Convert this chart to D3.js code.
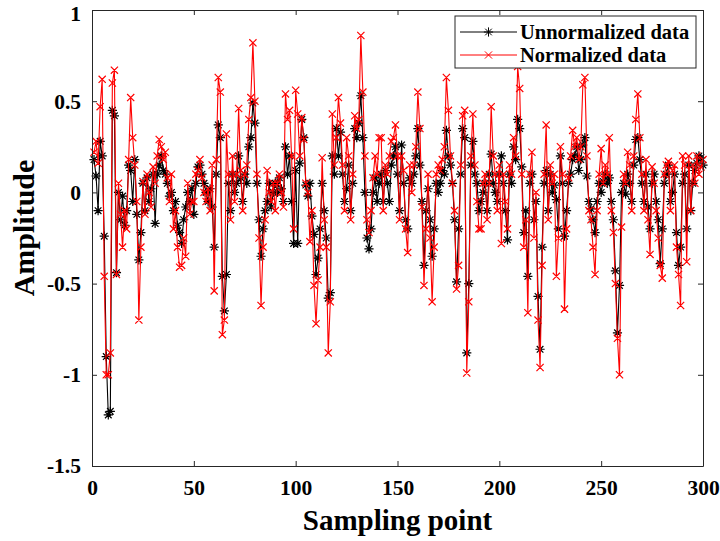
<!DOCTYPE html>
<html lang="en">
<head>
    <meta charset="UTF-8">
    <title>Amplitude</title>
    <script src="https://d3js.org/d3.v7.min.js"></script>
    <style>
        body { margin: 0; background: #fff; }
        text { font-family: "Liberation Serif", "Times New Roman", serif; font-weight: bold; }
    </style>
</head>
<body>
<script type="text/javascript">
    // sampling points 1..300
    var unnormalized = [
        0.18, 0.09, -0.10, 0.28, 0.20, -0.24, -0.90, -1.22, -1.20, 0.45,
        0.42, -0.44, 0.00, -0.15, -0.02, -0.18, -0.10, 0.15, 0.12, -0.05,
        0.18, -0.12, -0.37, -0.22, 0.05, -0.10, 0.08, -0.05, 0.02, 0.10,
        -0.17, 0.10, 0.15, 0.20, 0.12, 0.10, 0.05, -0.02, 0.00, -0.10,
        -0.05, -0.18, -0.22, -0.28, -0.15, -0.08, 0.00, -0.05, 0.02, -0.12,
        0.05, 0.14, 0.15, 0.10, 0.05, 0.00, -0.05, 0.02, -0.08, -0.30,
        0.10, 0.37, 0.30, -0.46, -0.65, -0.45, 0.05, -0.10, 0.10, 0.00,
        0.05, 0.20, 0.08, -0.05, 0.10, 0.05, 0.25, 0.30, 0.49, 0.38,
        0.05, -0.15, -0.35, -0.20, -0.10, -0.05, 0.05, -0.08, 0.00, 0.05,
        0.00, 0.08, 0.02, -0.05, 0.25, 0.10, 0.20, -0.05, -0.28, 0.12,
        -0.28, 0.16, 0.40, 0.30, 0.04, -0.02, 0.05, -0.13, -0.23, -0.45,
        -0.36, -0.20, 0.05, -0.10, -0.25, -0.58, -0.55, 0.20, 0.10, 0.35,
        0.20, 0.33, 0.10, -0.05, 0.02, 0.15, -0.10, 0.05, 0.35, 0.30,
        0.38, 0.53, 0.30, 0.00, -0.25, -0.31, -0.20, 0.00, 0.08, -0.05,
        0.05, 0.10, -0.05, 0.12, 0.05, -0.05, 0.15, 0.20, 0.25, 0.10,
        -0.10, 0.26, 0.05, -0.15, -0.20, 0.08, 0.05, 0.10, 0.20, 0.35,
        0.15, -0.05, -0.40, -0.10, 0.02, -0.15, -0.35, -0.20, 0.05, 0.00,
        0.05, 0.12, 0.10, 0.34, 0.20, 0.15, 0.05, -0.15, -0.49, -0.20,
        0.10, 0.35, 0.30, -0.88, -0.50, 0.15, 0.28, 0.10, 0.05, -0.10,
        -0.05, 0.00, 0.05, -0.10, 0.10, 0.21, 0.05, 0.00, -0.05, 0.10,
        0.20, 0.05, -0.10, -0.26, 0.10, 0.05, 0.25, 0.18, 0.40, 0.35,
        0.14, -0.22, -0.10, -0.46, 0.05, 0.10, -0.15, -0.05, -0.57, -0.86,
        -0.30, 0.05, 0.12, -0.10, 0.10, 0.00, 0.04, -0.04, -0.20, 0.20,
        0.05, -0.24, -0.10, 0.05, 0.10, 0.18, 0.20, 0.25, 0.12, 0.18,
        0.26, 0.30, 0.09, -0.05, -0.09, -0.15, -0.22, -0.05, 0.05, 0.00,
        0.06, 0.10, 0.05, 0.08, -0.05, -0.15, -0.43, -0.77, -0.51, 0.00,
        0.05, -0.01, 0.10, 0.05, -0.05, 0.15, 0.29, 0.30, 0.18, 0.05,
        -0.05, 0.10, -0.08, -0.20, 0.05, 0.10, -0.05, -0.15, -0.39, -0.20,
        0.05, 0.10, 0.15, -0.05, 0.00, 0.10, -0.22, -0.40, -0.30, 0.05,
        0.10, -0.20, 0.15, -0.10, 0.05, 0.12, 0.16, 0.20, 0.19, 0.15
    ];
    var normalized = [
        0.22, 0.28, 0.16, 0.47, 0.62, -0.46, -1.00, -1.00, -0.88, 0.60,
        0.67, -0.45, 0.05, -0.12, -0.30, -0.10, -0.20, 0.18, 0.52, 0.30,
        0.15, -0.05, -0.70, -0.30, 0.06, -0.12, 0.10, 0.00, -0.08, 0.14,
        0.05, 0.20, 0.29, 0.25, 0.18, 0.22, 0.08, -0.05, 0.10, -0.20,
        -0.10, -0.30, -0.41, -0.40, -0.25, -0.35, 0.05, -0.12, -0.05, -0.05,
        0.10, 0.12, 0.18, 0.08, 0.00, -0.05, 0.02, -0.10, 0.15, -0.54,
        0.18, 0.63, 0.55, -0.78, -0.70, 0.32, 0.10, -0.15, 0.20, -0.05,
        0.10, 0.46, 0.12, -0.10, 0.10, 0.15, 0.40, 0.52, 0.82, 0.50,
        0.10, -0.25, -0.62, -0.30, -0.15, 0.12, 0.00, -0.05, 0.05, -0.10,
        0.05, 0.10, 0.00, -0.08, 0.54, 0.40, 0.45, 0.20, -0.20, 0.56,
        0.43, 0.20, 0.41, 0.29, 0.05, 0.00, -0.27, -0.10, -0.51, -0.72,
        -0.48, -0.30, 0.19, -0.15, -0.30, -0.88, -0.60, 0.43, 0.15, 0.30,
        0.52, 0.38, 0.15, -0.10, 0.30, 0.20, -0.15, 0.10, 0.42, 0.35,
        0.40, 0.86, 0.55, 0.20, -0.15, -0.22, -0.10, 0.08, 0.20, 0.10,
        0.30, 0.30, -0.10, 0.15, 0.10, 0.20, 0.28, 0.30, 0.37, 0.20,
        -0.15, 0.20, 0.12, -0.20, -0.33, 0.15, 0.00, 0.15, 0.25, 0.55,
        0.35, -0.08, -0.51, -0.20, 0.10, -0.25, -0.60, -0.30, 0.10, 0.15,
        0.12, 0.18, 0.25, 0.63, 0.45, 0.20, 0.05, -0.10, -0.53, -0.40,
        0.15, 0.42, 0.45, -0.99, -0.60, 0.20, 0.43, 0.15, -0.05, -0.20,
        -0.20, 0.05, 0.10, -0.15, 0.05, 0.47, 0.20, 0.10, -0.10, 0.15,
        -0.28, 0.10, -0.05, -0.20, 0.15, 0.10, 0.30, 0.20, 0.69, 0.57,
        0.10, -0.30, -0.15, -0.66, 0.10, 0.22, -0.25, 0.00, -0.70, -0.96,
        -0.40, 0.10, 0.37, -0.15, 0.15, 0.05, 0.10, -0.46, -0.25, 0.25,
        0.10, -0.64, -0.20, 0.08, 0.20, 0.34, 0.25, 0.30, 0.18, 0.25,
        0.59, 0.63, 0.20, -0.10, -0.15, -0.30, -0.45, -0.10, 0.10, 0.24,
        0.05, 0.15, 0.10, 0.30, -0.10, -0.22, -0.50, -0.80, -1.00, -0.19,
        0.10, 0.05, 0.22, 0.15, -0.10, 0.20, 0.40, 0.54, 0.30, 0.10,
        -0.10, 0.18, -0.15, -0.34, 0.14, 0.05, -0.10, -0.25, -0.40, -0.47,
        0.10, 0.15, 0.17, -0.10, 0.12, 0.15, -0.30, -0.45, -0.62, 0.20,
        0.15, -0.38, 0.20, -0.10, 0.15, 0.05, 0.20, 0.10, 0.14, 0.18
    ];
    var xTicks = [0, 50, 100, 150, 200, 250, 300];
    var yTicks = [-1.5, -1, -0.5, 0, 0.5, 1];
    var seriesNames = ['Unnormalized data', 'Normalized data'];

    var W = 720, H = 541;
    var mLeft = 92, mRight = 703, mTop = 10, mBottom = 466;

    var svg = d3.select('body').append('svg')
            .attr('width', W)
            .attr('height', H);

    var x = d3.scaleLinear().domain([0, 300]).range([mLeft, mRight]);
    var y = d3.scaleLinear().domain([-1.5, 1]).range([mBottom, mTop]);

    // marker shapes: '*' = plus + cross, 'x' = cross
    function star(cx, cy, r) {
        var d = r * 0.72;
        return 'M' + (cx - r) + ',' + cy + 'L' + (cx + r) + ',' + cy +
                'M' + cx + ',' + (cy - r) + 'L' + cx + ',' + (cy + r) +
                'M' + (cx - d) + ',' + (cy - d) + 'L' + (cx + d) + ',' + (cy + d) +
                'M' + (cx - d) + ',' + (cy + d) + 'L' + (cx + d) + ',' + (cy - d);
    }
    function cross(cx, cy, r) {
        return 'M' + (cx - r) + ',' + (cy - r) + 'L' + (cx + r) + ',' + (cy + r) +
                'M' + (cx - r) + ',' + (cy + r) + 'L' + (cx + r) + ',' + (cy - r);
    }

    var series = [
        {name: seriesNames[0], values: unnormalized, color: '#000000', marker: star, size: 4.6},
        {name: seriesNames[1], values: normalized, color: '#ff0000', marker: cross, size: 3.6}
    ];

    var line = d3.line()
            .x(function (d, i) { return x(i + 1); })
            .y(function (d) { return y(d); });

    var plot = svg.append('g');
    series.forEach(function (s) {
        plot.append('path')
                .attr('d', line(s.values))
                .attr('fill', 'none')
                .attr('stroke', s.color)
                .attr('stroke-width', 1.1);
        plot.append('path')
                .attr('d', s.values.map(function (d, i) {
                    return s.marker(x(i + 1), y(d), s.size);
                }).join(''))
                .attr('fill', 'none')
                .attr('stroke', s.color)
                .attr('stroke-width', 1.2);
    });

    // axes box with inward ticks on all sides
    var axisColor = '#262626';
    svg.append('g').attr('transform', 'translate(0,' + mBottom + ')')
            .call(d3.axisBottom(x).tickValues(xTicks).tickSizeInner(-5).tickSizeOuter(0).tickPadding(14));
    svg.append('g').attr('transform', 'translate(0,' + mTop + ')')
            .call(d3.axisTop(x).tickValues(xTicks).tickSizeInner(-5).tickSizeOuter(0).tickFormat(''));
    svg.append('g').attr('transform', 'translate(' + mLeft + ',0)')
            .call(d3.axisLeft(y).tickValues(yTicks).tickSizeInner(-5).tickSizeOuter(0).tickPadding(11)
                    .tickFormat(function (d) { return String(d); }));
    svg.append('g').attr('transform', 'translate(' + mRight + ',0)')
            .call(d3.axisRight(y).tickValues(yTicks).tickSizeInner(-5).tickSizeOuter(0).tickFormat(''));
    svg.selectAll('.domain, .tick line').attr('stroke', axisColor);
    svg.selectAll('.tick text')
            .attr('fill', '#000')
            .style('font-size', '21.5px');
    svg.selectAll('.tick text').filter(function (d) { return d === 1; }).attr('dy', '0.5em');

    svg.append('text')
            .attr('x', (mLeft + mRight) / 2)
            .attr('y', 530)
            .attr('text-anchor', 'middle')
            .style('font-size', '29px')
            .text('Sampling point');
    svg.append('text')
            .attr('transform', 'translate(34,' + 228 + ') rotate(-90)')
            .attr('text-anchor', 'middle')
            .style('font-size', '30px')
            .text('Amplitude');

    // legend
    var lg = svg.append('g');
    lg.append('rect')
            .attr('x', 455).attr('y', 16)
            .attr('width', 241).attr('height', 52)
            .attr('fill', '#fff')
            .attr('stroke', axisColor);
    series.forEach(function (s, i) {
        var ly = 32 + i * 23;
        lg.append('line')
                .attr('x1', 460).attr('x2', 517)
                .attr('y1', ly).attr('y2', ly)
                .attr('stroke', s.color);
        lg.append('path')
                .attr('d', s.marker(488.5, ly, s.size))
                .attr('fill', 'none')
                .attr('stroke', s.color);
        lg.append('text')
                .attr('x', 520).attr('y', ly + 7)
                .style('font-size', '20.5px')
                .text(s.name);
    });
</script>
</body>
</html>
